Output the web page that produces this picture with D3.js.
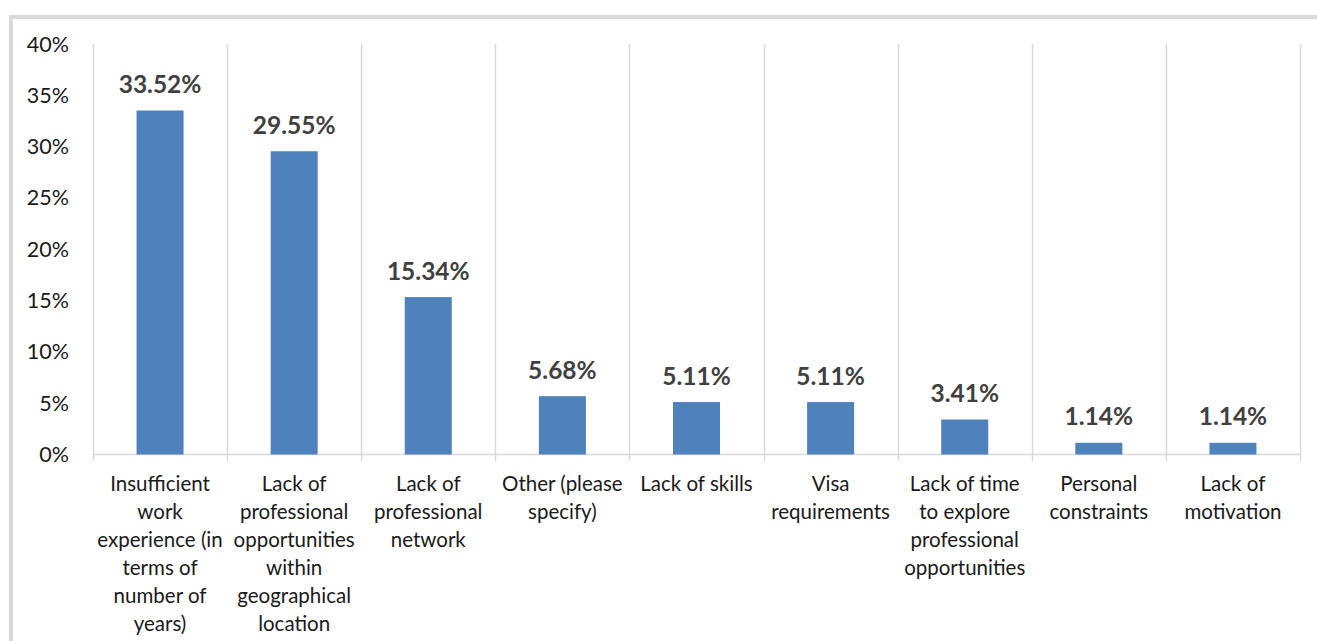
<!DOCTYPE html>
<html><head><meta charset="utf-8">
<script src="https://cdn.jsdelivr.net/npm/d3@7"></script>
<style>
html,body{margin:0;padding:0;background:#fff;}
svg{display:block;}
</style></head>
<body>
<svg id="chart" width="1317" height="641"></svg>
<script>
const categories = [
  ["Insufficient","work","experience (in","terms of","number of","years)"],
  ["Lack of","professional","opportunities","within","geographical","location"],
  ["Lack of","professional","network"],
  ["Other (please","specify)"],
  ["Lack of skills"],
  ["Visa","requirements"],
  ["Lack of time","to explore","professional","opportunities"],
  ["Personal","constraints"],
  ["Lack of","motivation"]
];
const values = [33.52, 29.55, 15.34, 5.68, 5.11, 5.11, 3.41, 1.14, 1.14];
const yTicks = [0, 5, 10, 15, 20, 25, 30, 35, 40];

const font = "Lato, 'Open Sans', sans-serif";
const svg = d3.select("#chart");

// outer frame (gray border top & left)
svg.append("rect").attr("x", 9).attr("y", 15).attr("width", 1400).attr("height", 4).attr("fill", "#d9d9d9");
svg.append("rect").attr("x", 9).attr("y", 15).attr("width", 4).attr("height", 700).attr("fill", "#d9d9d9");

const x = d3.scaleBand().domain(d3.range(categories.length)).range([93, 1300]).paddingInner(0).paddingOuter(0);
const y = d3.scaleLinear().domain([0, 40]).range([454.5, 44]);

// vertical separators
const seps = d3.range(categories.length + 1).map(i => i === categories.length ? 1300 : x(i));
svg.append("g").selectAll("line").data(seps).join("line")
  .attr("x1", d => Math.round(d) + 0.5).attr("x2", d => Math.round(d) + 0.5)
  .attr("y1", y(40)).attr("y2", 461)
  .attr("stroke", "#d9d9d9").attr("stroke-width", 1.5);

// baseline
svg.append("line").attr("x1", 93).attr("x2", 1300).attr("y1", y(0)).attr("y2", y(0))
  .attr("stroke", "#d9d9d9").attr("stroke-width", 1.5);

// y tick labels
svg.append("g").selectAll("text").data(yTicks).join("text")
  .attr("x", 69).attr("y", d => y(d)).attr("dy", "0.35em")
  .attr("text-anchor", "end").attr("font-family", font).attr("font-size", 21.5)
  .attr("fill", "#1a1a1a").text(d => d + "%");

// bars
const bw = 47;
svg.append("g").selectAll("rect").data(values).join("rect")
  .attr("x", (d, i) => x(i) + x.bandwidth() / 2 - bw / 2)
  .attr("width", bw)
  .attr("y", d => y(d))
  .attr("height", d => y(0) - y(d))
  .attr("fill", "#4f81bd");

// value labels
svg.append("g").selectAll("text").data(values).join("text")
  .attr("x", (d, i) => x(i) + x.bandwidth() / 2)
  .attr("y", d => y(d) - 26).attr("dy", "0.35em")
  .attr("text-anchor", "middle").attr("font-family", font).attr("font-size", 24.5)
  .attr("font-weight", "bold").attr("fill", "#404040")
  .text(d => d.toFixed(2) + "%");

// category labels
const cg = svg.append("g").selectAll("text").data(categories).join("text")
  .attr("text-anchor", "middle").attr("font-family", font).attr("font-size", 20.5)
  .attr("fill", "#1a1a1a");
cg.each(function(lines, i) {
  d3.select(this).selectAll("tspan").data(lines).join("tspan")
    .attr("x", x(i) + x.bandwidth() / 2)
    .attr("y", (l, j) => 484 + j * 28).attr("dy", "0.35em")
    .text(l => l);
});
</script>
</body></html>
